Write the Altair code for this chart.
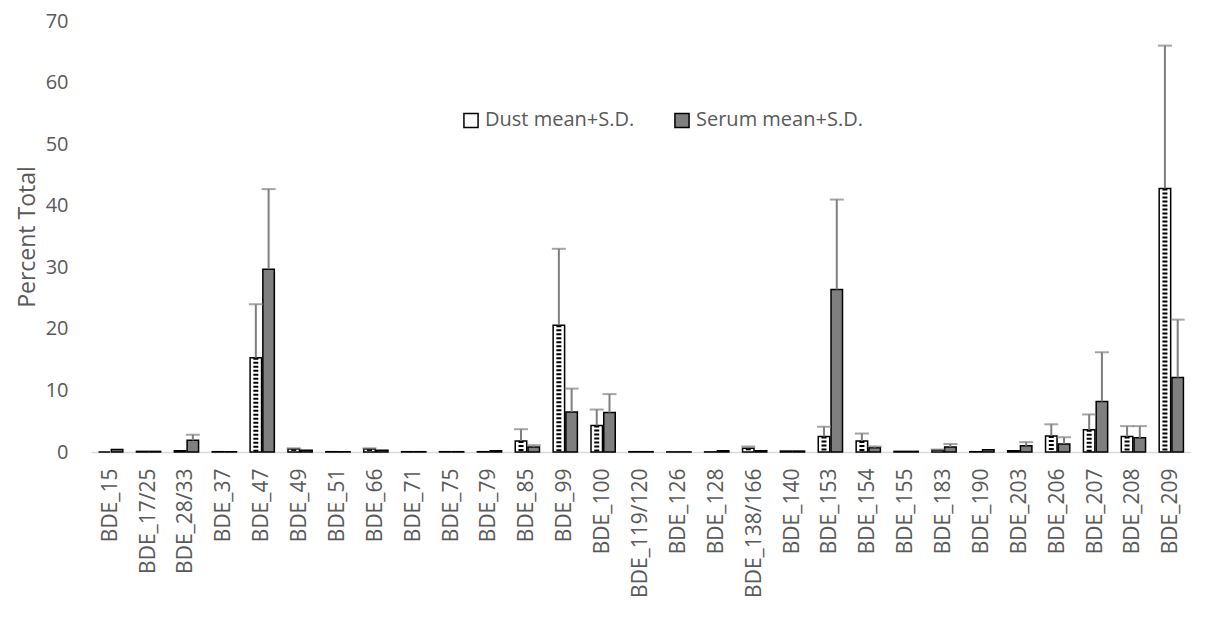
import altair as alt
import pandas as pd

categories = ["BDE_15", "BDE_17/25", "BDE_28/33", "BDE_37", "BDE_47", "BDE_49", "BDE_51",
              "BDE_66", "BDE_71", "BDE_75", "BDE_79", "BDE_85", "BDE_99", "BDE_100",
              "BDE_119/120", "BDE_126", "BDE_128", "BDE_138/166", "BDE_140", "BDE_153",
              "BDE_154", "BDE_155", "BDE_183", "BDE_190", "BDE_203", "BDE_206", "BDE_207",
              "BDE_208", "BDE_209"]
dust_mean = [0.0, 0.1, 0.2, 0.05, 15.3, 0.5, 0.05, 0.5, 0.05, 0.05, 0.05, 1.8, 20.6, 4.3,
             0.05, 0.02, 0.02, 0.6, 0.15, 2.5, 1.8, 0.1, 0.3, 0.05, 0.2, 2.6, 3.6, 2.5, 42.8]
dust_sd = [0.0, 0.0, 0.0, 0.0, 8.7, 0.1, 0.0, 0.1, 0.0, 0.0, 0.0, 1.9, 12.4, 2.6,
           0.0, 0.0, 0.0, 0.3, 0.0, 1.6, 1.2, 0.0, 0.1, 0.0, 0.0, 1.9, 2.5, 1.7, 23.2]
serum_mean = [0.4, 0.1, 1.9, 0.05, 29.7, 0.3, 0.05, 0.3, 0.05, 0.05, 0.2, 0.8, 6.5, 6.4,
              0.05, 0.02, 0.2, 0.2, 0.15, 26.4, 0.7, 0.1, 0.8, 0.35, 1.0, 1.3, 8.2, 2.3, 12.1]
serum_sd = [0.0, 0.0, 0.9, 0.0, 13.0, 0.0, 0.0, 0.0, 0.0, 0.0, 0.0, 0.3, 3.8, 3.0,
            0.0, 0.0, 0.0, 0.0, 0.0, 14.6, 0.2, 0.0, 0.5, 0.0, 0.6, 1.1, 8.0, 1.9, 9.4]
series = ["Dust mean+S.D.", "Serum mean+S.D."]

rows = []
for i, c in enumerate(categories):
    rows.append({"cat": c, "series": series[0], "mean": dust_mean[i], "top": dust_mean[i] + dust_sd[i], "sd": dust_sd[i]})
    rows.append({"cat": c, "series": series[1], "mean": serum_mean[i], "top": serum_mean[i] + serum_sd[i], "sd": serum_sd[i]})
df = pd.DataFrame(rows)

font = "Open Sans"
grey = "#595959"

xenc = alt.X("cat:N", sort=categories, title=None,
             scale=alt.Scale(paddingInner=0.36, paddingOuter=0.2),
             axis=alt.Axis(labelAngle=-90, labelFontSize=21, labelColor=grey, labelFont=font,
                           domainColor="#d9d9d9", domainWidth=1.5, ticks=False, labelPadding=16,
                           labelBaseline="middle", labelAlign="right", labelLimit=300))
xoff = alt.XOffset("series:N", scale=alt.Scale(domain=series, paddingInner=0.1))
yenc = alt.Y("mean:Q", title="Percent Total",
             scale=alt.Scale(domain=[0, 70]),
             axis=alt.Axis(values=list(range(0, 71, 10)), grid=False, domain=False, ticks=False,
                           labelFontSize=20, labelColor=grey, labelFont=font, labelPadding=23,
                           titleFontSize=23, titleColor=grey, titleFont=font, titleFontWeight="normal",
                           titlePadding=6))

bars = alt.Chart(df).mark_bar(stroke="black", strokeWidth=1.5).encode(
    x=xenc, xOffset=xoff, y=yenc,
    fill=alt.Fill("series:N", scale=alt.Scale(domain=series, range=["white", "#7f7f7f"]),
                  legend=alt.Legend(title=None, orient="none", legendX=370, legendY=89,
                                    direction="horizontal", symbolType="square", symbolSize=200,
                                    symbolStrokeColor="black", symbolStrokeWidth=1.5,
                                    labelFontSize=20, labelColor=grey, labelFont=font,
                                    labelLimit=400, columnPadding=36)),
)

dots = alt.Chart(df).transform_filter(alt.datum.series == series[0]).transform_filter(
    alt.datum.mean > 0.3).mark_rule(color="black", strokeWidth=5, strokeDash=[2, 2]).encode(
    x=xenc, xOffset=xoff, y="mean:Q", y2=alt.datum(0)
)

err = alt.Chart(df).transform_filter(alt.datum.sd > 0).mark_rule(color="#7f7f7f", strokeWidth=2).encode(
    x=xenc, xOffset=xoff, y="mean:Q", y2="top:Q"
)
caps = alt.Chart(df).transform_filter(alt.datum.sd > 0).mark_tick(
    color="#7f7f7f", thickness=2, size=14, orient="horizontal").encode(
    x=xenc, xOffset=xoff, y="top:Q"
)

chart = alt.layer(bars, dots, err, caps).properties(
    width=1100, height=431,
    padding={"left": 8, "top": 3, "right": 0, "bottom": 0},
    background="white"
).configure_view(stroke=None)

chart.save("out.html", embed_options={"renderer": "svg", "actions": False})
